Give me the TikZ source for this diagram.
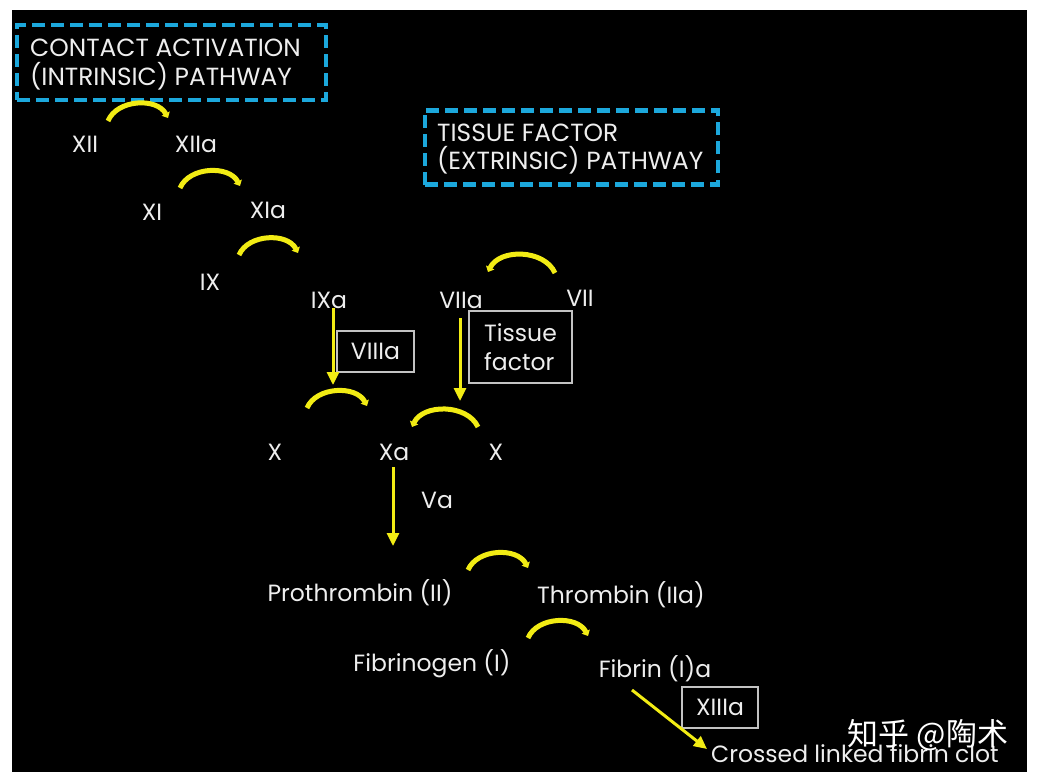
\documentclass[tikz,border=0pt]{standalone}
\usepackage{fontspec}
\setmainfont{Poppins}
\newfontfamily\cjkfont{Noto Sans CJK SC}
\usetikzlibrary{arrows.meta}
\definecolor{yel}{RGB}{242,236,20}
\definecolor{cyanbox}{RGB}{28,168,220}
\definecolor{boxgray}{RGB}{195,195,195}
\definecolor{txt}{RGB}{238,238,238}
\tikzset{
  lbl/.style={text=txt, inner sep=0pt, anchor=base, font=\fontsize{23.5}{27}\selectfont},
  hdr/.style={text=txt, inner sep=0pt, anchor=base west, font=\fontsize{24.8}{29}\selectfont},
  pathbox/.style={draw=cyanbox, line width=4.5pt, dash pattern=on 13pt off 6pt, inner sep=0pt},
  cofbox/.style={draw=boxgray, line width=1.2pt, text=txt, inner sep=0pt, font=\fontsize{23.5}{29}\selectfont},
  arcarrow/.style={draw=yel, line width=5pt, -{Triangle[length=5pt,width=9pt]}},
  varrow/.style={draw=yel, line width=3pt, -{Triangle[length=13pt,width=12pt]}}
}
\begin{document}
\begin{tikzpicture}[x=1pt,y=1pt]
\useasboundingbox (0,0) rectangle (1039,-781);
\fill[white] (0,0) rectangle (1039,-781);
\fill[black] (12,-10) rectangle (1027,-772);

% pathway boxes
\node[pathbox, minimum width=309pt, minimum height=75pt] (cbox) at (171.5,-62.5) {};
\node[hdr] (c1) at (30,-57) {CONTACT ACTIVATION};
\node[hdr] (c2) at (30,-86) {(INTRINSIC) PATHWAY};
\node[pathbox, minimum width=293pt, minimum height=74pt] (tbox) at (571.5,-147.5) {};
\node[hdr] (t1) at (437,-142) {TISSUE FACTOR};
\node[hdr] (t2) at (437,-170) {(EXTRINSIC) PATHWAY};

% factor labels
\node[lbl] (XII) at (85,-153) {XII};
\node[lbl] (XIIa) at (196,-153) {XIIa};
\node[lbl] (XI) at (152,-220) {XI};
\node[lbl] (XIa) at (268,-218) {XIa};
\node[lbl] (IX) at (210,-290) {IX};
\node[lbl] (IXa) at (329,-308) {IXa};
\node[lbl] (VIIa) at (461,-308) {VIIa};
\node[lbl] (VII) at (580,-306) {VII};
\node[lbl] (XL) at (275,-460) {X};
\node[lbl] (Xa) at (394,-460) {Xa};
\node[lbl] (XR) at (496,-460) {X};
\node[lbl] (Va) at (437,-508) {Va};
\node[lbl] (PT) at (360,-601) {Prothrombin (II)};
\node[lbl] (TH) at (621,-603) {Thrombin (IIa)};
\node[lbl] (FG) at (432,-671) {Fibrinogen (I)};
\node[lbl] (FB) at (655,-677) {Fibrin (I)a};
\node[lbl, anchor=base west] (clot) at (711,-762) {Crossed linked fibrin clot};

% cofactor boxes
\node[cofbox, minimum width=77pt, minimum height=41pt] (VIIIa) at (375.5,-351.5) {VIIIa};
\node[cofbox, minimum width=103pt, minimum height=72pt, align=left] (TF) at (520.5,-347) {Tissue\\factor};
\node[cofbox, minimum width=76pt, minimum height=41pt] (XIIIa) at (720,-707.5) {XIIIa};

% curved activation arrows
\coordinate (a1s) at (108,-121); \coordinate (a1e) at (168,-118);
\coordinate (a2s) at (180,-188); \coordinate (a2e) at (240,-186);
\coordinate (a3s) at (239,-255); \coordinate (a3e) at (298,-253);
\coordinate (a4s) at (555,-273); \coordinate (a4e) at (488,-272);
\coordinate (a5s) at (307,-408); \coordinate (a5e) at (367,-406);
\coordinate (a6s) at (478,-427); \coordinate (a6e) at (412,-427);
\coordinate (a7s) at (468,-570); \coordinate (a7e) at (528,-568);
\coordinate (a8s) at (528,-638); \coordinate (a8e) at (588,-636);
\draw[arcarrow] (a1s) to[bend left=65] (a1e);
\draw[arcarrow] (a2s) to[bend left=65] (a2e);
\draw[arcarrow] (a3s) to[bend left=65] (a3e);
\draw[arcarrow] (a4s) to[bend right=65] (a4e);
\draw[arcarrow] (a5s) to[bend left=65] (a5e);
\draw[arcarrow] (a6s) to[bend right=65] (a6e);
\draw[arcarrow] (a7s) to[bend left=65] (a7e);
\draw[arcarrow] (a8s) to[bend left=65] (a8e);

% straight arrows
\coordinate (v1) at (333,-385);
\coordinate (v2) at (460,-401);
\coordinate (v3) at (393,-546);
\draw[varrow] (IXa.south -| v1) -- (v1);
\draw[varrow, shorten <=10pt] (VIIa.south -| v2) -- (v2);
\draw[varrow, shorten <=7pt] (Xa.south -| v3) -- (v3);
\coordinate (d1) at (632,-690);
\coordinate (d2) at (707,-749);
\draw[varrow] (d1) -- (d2);

% watermark
\node[text=white, inner sep=0pt, font=\cjkfont\fontsize{31}{34}\selectfont] (wm) at (928,-735) {知乎 @陶术};
\end{tikzpicture}
\end{document}
